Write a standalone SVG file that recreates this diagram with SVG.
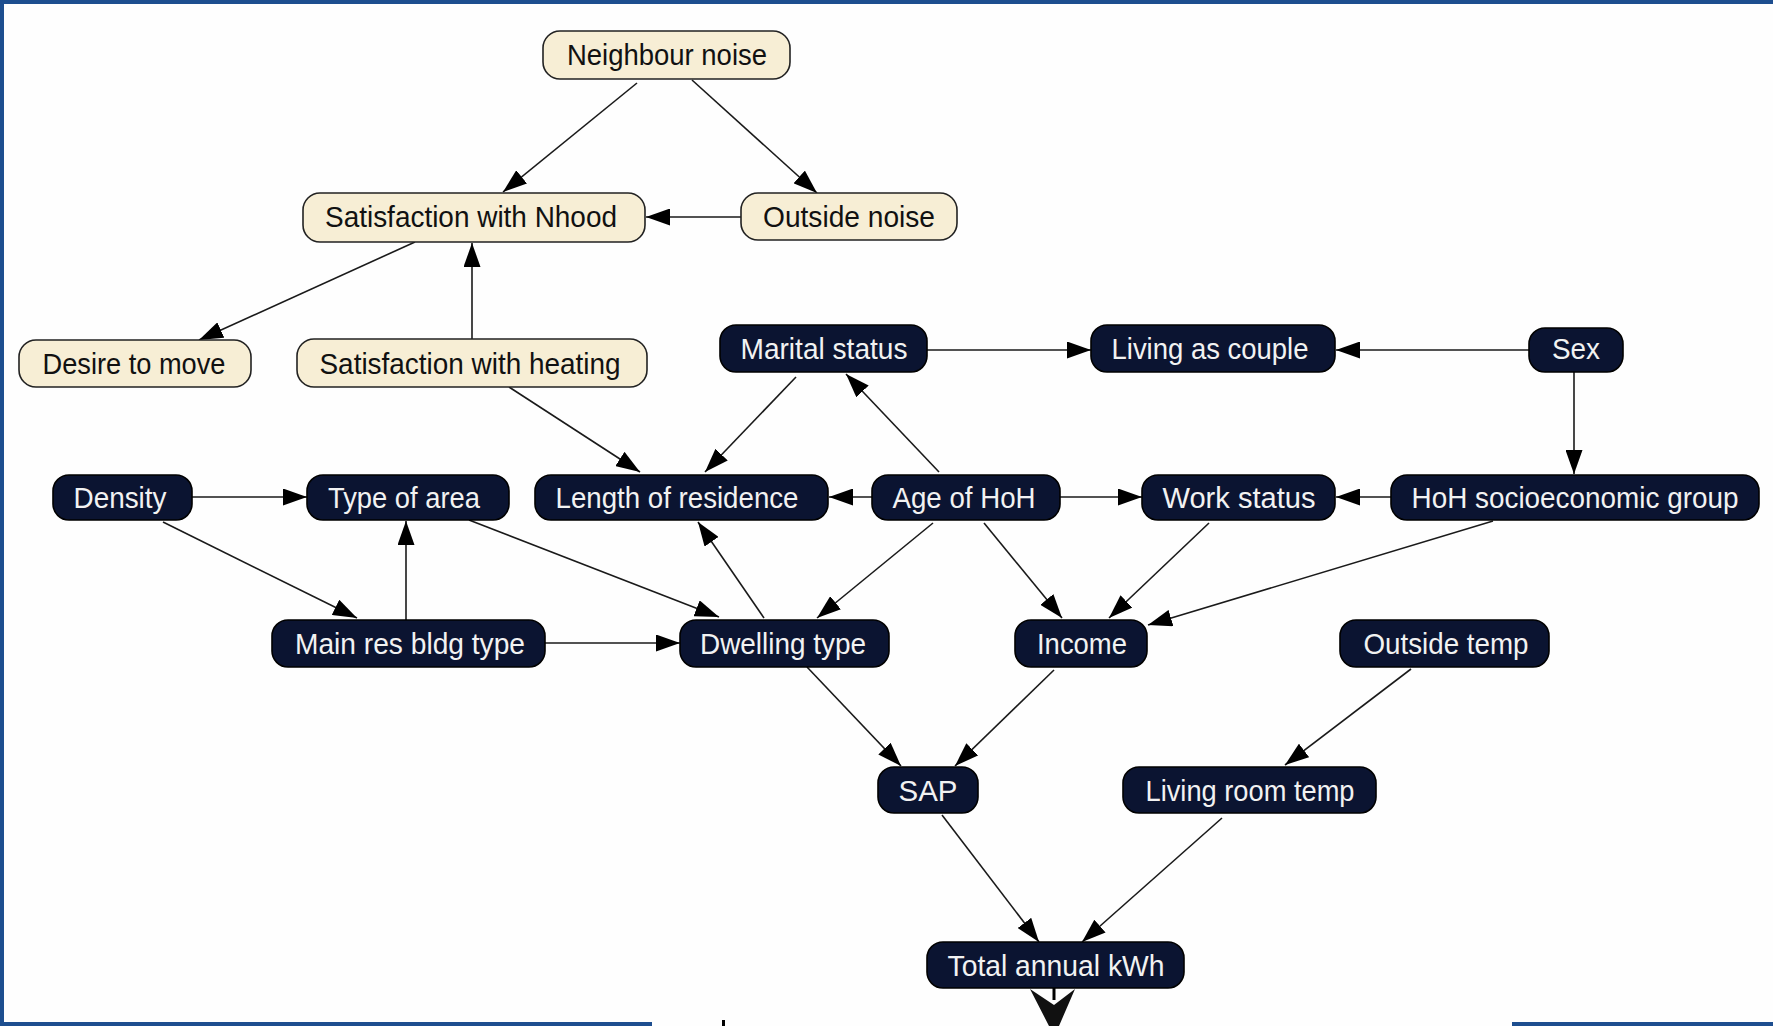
<svg xmlns="http://www.w3.org/2000/svg" width="1773" height="1026" viewBox="0 0 1773 1026">
<defs>
<marker id="ah" viewBox="0 0 24 17" refX="24" refY="8.5" markerWidth="24" markerHeight="17" markerUnits="userSpaceOnUse" orient="auto">
<path d="M0,0 L24,8.5 L0,17 z" fill="#000"/>
</marker>
<style>
.b{fill:#f7eed5;stroke:#222;stroke-width:1.6}
.d{fill:#0b1431;stroke:#000;stroke-width:1.6}
.tb{font-family:"Liberation Sans",Arial,sans-serif;font-size:29px;fill:#111;text-anchor:middle}
.td{font-family:"Liberation Sans",Arial,sans-serif;font-size:29px;fill:#f2f2f2;text-anchor:middle}
.e{stroke:#1a1a1a;stroke-width:1.6;fill:none;marker-end:url(#ah)}
.frame{fill:#1d4e8f}
</style>
</defs>
<rect width="1773" height="1026" fill="#fefefe"/>
<g id="frame">
<rect class="frame" x="0" y="0" width="1773" height="4"/>
<rect class="frame" x="0" y="0" width="4" height="1026"/>
<rect class="frame" x="0" y="1022" width="652" height="4"/>
<rect class="frame" x="1512" y="1022" width="261" height="4"/>
<rect x="722" y="1020" width="3" height="6" fill="#000"/>
</g>
<g id="connectors">
<line class="e" x1="637" y1="83" x2="503" y2="192"/>
<line class="e" x1="692" y1="80" x2="817" y2="193"/>
<line class="e" x1="741" y1="217" x2="646" y2="217"/>
<line class="e" x1="415" y1="242" x2="199" y2="340"/>
<line class="e" x1="472" y1="339" x2="472" y2="243"/>
<line class="e" x1="509" y1="387" x2="640" y2="472"/>
<line class="e" x1="796" y1="377" x2="705" y2="472"/>
<line class="e" x1="939" y1="472" x2="846" y2="374"/>
<line class="e" x1="872" y1="497" x2="829" y2="497"/>
<line class="e" x1="1060" y1="497" x2="1142" y2="497"/>
<line class="e" x1="933" y1="523" x2="817" y2="618"/>
<line class="e" x1="984" y1="523" x2="1062" y2="618"/>
<line class="e" x1="1209" y1="523" x2="1109" y2="618"/>
<line class="e" x1="1493" y1="521" x2="1148" y2="625"/>
<line class="e" x1="1391" y1="497" x2="1336" y2="497"/>
<line class="e" x1="1574" y1="372" x2="1574" y2="474"/>
<line class="e" x1="1529" y1="350" x2="1336" y2="350"/>
<line class="e" x1="927" y1="350" x2="1091" y2="350"/>
<line class="e" x1="192" y1="497" x2="307" y2="497"/>
<line class="e" x1="163" y1="522" x2="357" y2="618"/>
<line class="e" x1="406" y1="620" x2="406" y2="521"/>
<line class="e" x1="469" y1="520" x2="719" y2="617"/>
<line class="e" x1="545" y1="643" x2="680" y2="643"/>
<line class="e" x1="764" y1="618" x2="698" y2="522"/>
<line class="e" x1="807" y1="667" x2="901" y2="766"/>
<line class="e" x1="1054" y1="670" x2="955" y2="766"/>
<line class="e" x1="1411" y1="669" x2="1285" y2="765"/>
<line class="e" x1="942" y1="815" x2="1039" y2="942"/>
<line class="e" x1="1222" y1="818" x2="1082" y2="942"/>
<path d="M1054,988 L1054,1000" stroke="#000" stroke-width="3"/>
<path d="M1030,989 L1054,1005 L1075,989 L1059,1026 L1049,1026 z" fill="#111"/>
</g>
<g id="n-neighbour-noise"><rect class="b" x="543" y="31" width="247" height="48" rx="17"/><text class="tb" x="667" y="65" textLength="200" lengthAdjust="spacingAndGlyphs">Neighbour noise</text></g>
<g id="n-sat-nhood"><rect class="b" x="303" y="193" width="342" height="49" rx="17"/><text class="tb" x="471" y="227" textLength="292" lengthAdjust="spacingAndGlyphs">Satisfaction with Nhood</text></g>
<g id="n-outside-noise"><rect class="b" x="741" y="193" width="216" height="47" rx="17"/><text class="tb" x="849" y="227" textLength="172" lengthAdjust="spacingAndGlyphs">Outside noise</text></g>
<g id="n-desire"><rect class="b" x="19" y="340" width="232" height="47" rx="17"/><text class="tb" x="134" y="374" textLength="183" lengthAdjust="spacingAndGlyphs">Desire to move</text></g>
<g id="n-sat-heating"><rect class="b" x="297" y="339" width="350" height="48" rx="17"/><text class="tb" x="470" y="374" textLength="301" lengthAdjust="spacingAndGlyphs">Satisfaction with heating</text></g>
<g id="n-marital"><rect class="d" x="720" y="325" width="207" height="47" rx="16"/><text class="td" x="824" y="359" textLength="167" lengthAdjust="spacingAndGlyphs">Marital status</text></g>
<g id="n-living-couple"><rect class="d" x="1091" y="325" width="244" height="47" rx="16"/><text class="td" x="1210" y="359" textLength="197" lengthAdjust="spacingAndGlyphs">Living as couple</text></g>
<g id="n-sex"><rect class="d" x="1529" y="328" width="94" height="44" rx="16"/><text class="td" x="1576" y="359" textLength="48" lengthAdjust="spacingAndGlyphs">Sex</text></g>
<g id="n-density"><rect class="d" x="53" y="475" width="139" height="45" rx="16"/><text class="td" x="120" y="508" textLength="93" lengthAdjust="spacingAndGlyphs">Density</text></g>
<g id="n-type-area"><rect class="d" x="307" y="475" width="202" height="45" rx="16"/><text class="td" x="404" y="508" textLength="152" lengthAdjust="spacingAndGlyphs">Type of area</text></g>
<g id="n-length-res"><rect class="d" x="535" y="475" width="293" height="45" rx="16"/><text class="td" x="677" y="508" textLength="243" lengthAdjust="spacingAndGlyphs">Length of residence</text></g>
<g id="n-age-hoh"><rect class="d" x="872" y="475" width="188" height="45" rx="16"/><text class="td" x="964" y="508" textLength="143" lengthAdjust="spacingAndGlyphs">Age of HoH</text></g>
<g id="n-work-status"><rect class="d" x="1142" y="475" width="193" height="45" rx="16"/><text class="td" x="1239" y="508" textLength="153" lengthAdjust="spacingAndGlyphs">Work status</text></g>
<g id="n-hoh-socio"><rect class="d" x="1391" y="475" width="368" height="45" rx="16"/><text class="td" x="1575" y="508" textLength="327" lengthAdjust="spacingAndGlyphs">HoH socioeconomic group</text></g>
<g id="n-main-res"><rect class="d" x="272" y="620" width="273" height="47" rx="16"/><text class="td" x="410" y="654" textLength="230" lengthAdjust="spacingAndGlyphs">Main res bldg type</text></g>
<g id="n-dwelling"><rect class="d" x="680" y="620" width="209" height="47" rx="16"/><text class="td" x="783" y="654" textLength="166" lengthAdjust="spacingAndGlyphs">Dwelling type</text></g>
<g id="n-income"><rect class="d" x="1015" y="620" width="132" height="47" rx="16"/><text class="td" x="1082" y="654" textLength="90" lengthAdjust="spacingAndGlyphs">Income</text></g>
<g id="n-outside-temp"><rect class="d" x="1340" y="620" width="209" height="47" rx="16"/><text class="td" x="1446" y="654" textLength="165" lengthAdjust="spacingAndGlyphs">Outside temp</text></g>
<g id="n-sap"><rect class="d" x="878" y="767" width="100" height="46" rx="16"/><text class="td" x="928" y="801" textLength="59" lengthAdjust="spacingAndGlyphs">SAP</text></g>
<g id="n-living-room"><rect class="d" x="1123" y="767" width="253" height="46" rx="16"/><text class="td" x="1250" y="801" textLength="209" lengthAdjust="spacingAndGlyphs">Living room temp</text></g>
<g id="n-total"><rect class="d" x="927" y="942" width="257" height="46" rx="16"/><text class="td" x="1056" y="976" textLength="217" lengthAdjust="spacingAndGlyphs">Total annual kWh</text></g>
</svg>
